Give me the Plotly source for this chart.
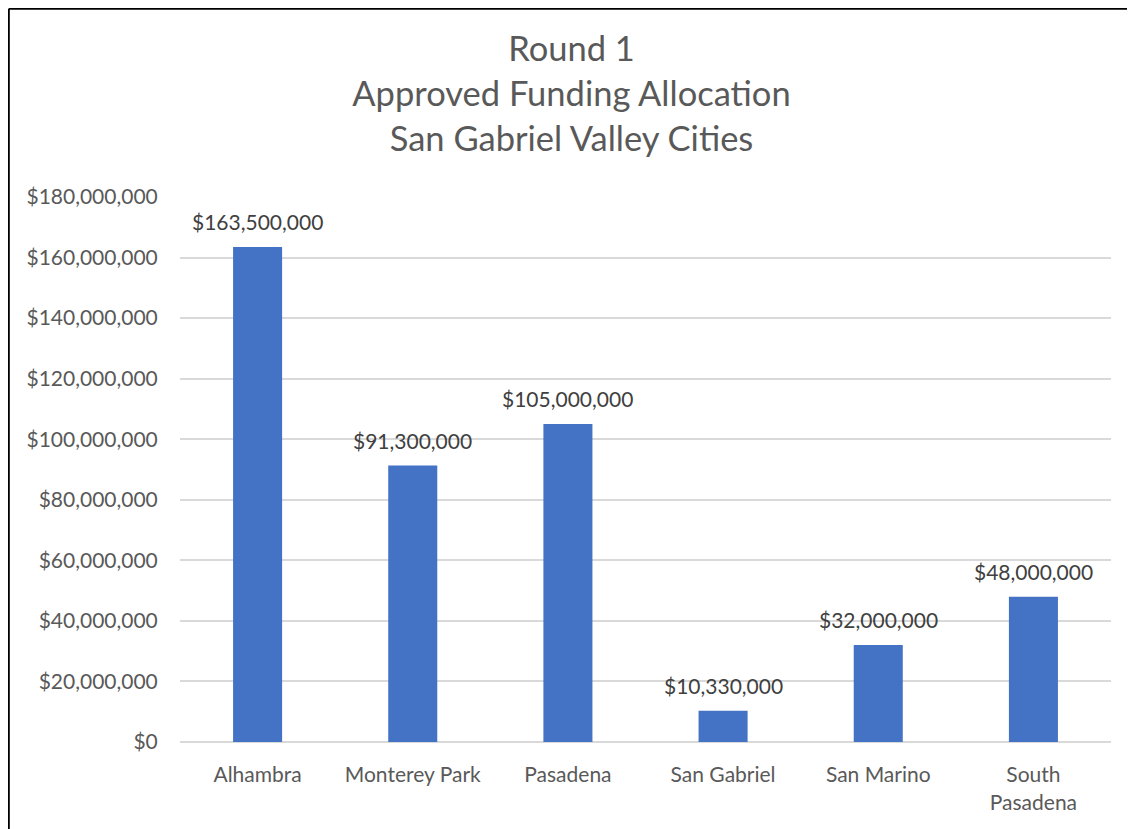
import plotly.graph_objects as go

cities = ["Alhambra", "Monterey Park", "Pasadena", "San Gabriel", "San Marino", "South<br>Pasadena"]
funding = [163500000, 91300000, 105000000, 10330000, 32000000, 48000000]
labels = ["$163,500,000", "$91,300,000", "$105,000,000", "$10,330,000", "$32,000,000", "$48,000,000"]
title_lines = ["Round 1", "Approved Funding Allocation", "San Gabriel Valley Cities"]

# page body has an 8px margin; figure is sized/offset to compensate
W, H = 1127, 821
ml, mr, mt, mb = 172, 24, 189, 87
pw, ph = W - ml - mr, H - mt - mb

fig = go.Figure()
fig.add_trace(go.Bar(x=cities, y=funding, marker=dict(color="#4472C4", line=dict(width=0)),
                     hoverinfo="x+y"))

for c, v, t in zip(cities, funding, labels):
    fig.add_annotation(x=c, y=v, text=t, showarrow=False, yanchor="bottom", yshift=11,
                       font=dict(family="Lato", size=21, color="#404040"))

# outer chart border (top and left visible)
bx = (0.8 - ml) / pw
by = (H - mb - 0.8) / ph
bx1 = (W + 10 - ml) / pw
byb = -(mb + 10) / ph
fig.add_shape(type="line", xref="paper", yref="paper", x0=bx, x1=bx1, y0=by, y1=by,
              line=dict(color="black", width=2))
fig.add_shape(type="line", xref="paper", yref="paper", x0=bx, x1=bx, y0=by, y1=byb,
              line=dict(color="black", width=2))

fig.update_layout(
    width=W, height=H,
    margin=dict(l=ml, r=mr, t=mt, b=mb, autoexpand=False),
    paper_bgcolor="white", plot_bgcolor="white",
    bargap=0.684,
    showlegend=False,
    title=dict(text="<br>".join(title_lines), x=0.5, xanchor="center",
               y=(H - 53) / H, yanchor="middle",
               font=dict(family="Lato", size=34.5, color="#595959")),
    font=dict(family="Lato", color="#595959"),
    xaxis=dict(showgrid=False, showline=False, ticks="outside", ticklen=14, tickcolor="rgba(0,0,0,0)",
               tickfont=dict(family="Lato", size=21, color="#595959")),
    yaxis=dict(range=[0, 180000000], dtick=20000000, tickprefix="$", tickformat=",.0f",
               showgrid=True, gridcolor="#D9D9D9", gridwidth=1.5, zeroline=True,
               zerolinecolor="#D9D9D9", zerolinewidth=1.5, showline=False,
               ticks="outside", ticklen=17, tickcolor="rgba(0,0,0,0)",
               tickfont=dict(family="Lato", size=21, color="#595959")),
)

fig.write_html("out.html")
